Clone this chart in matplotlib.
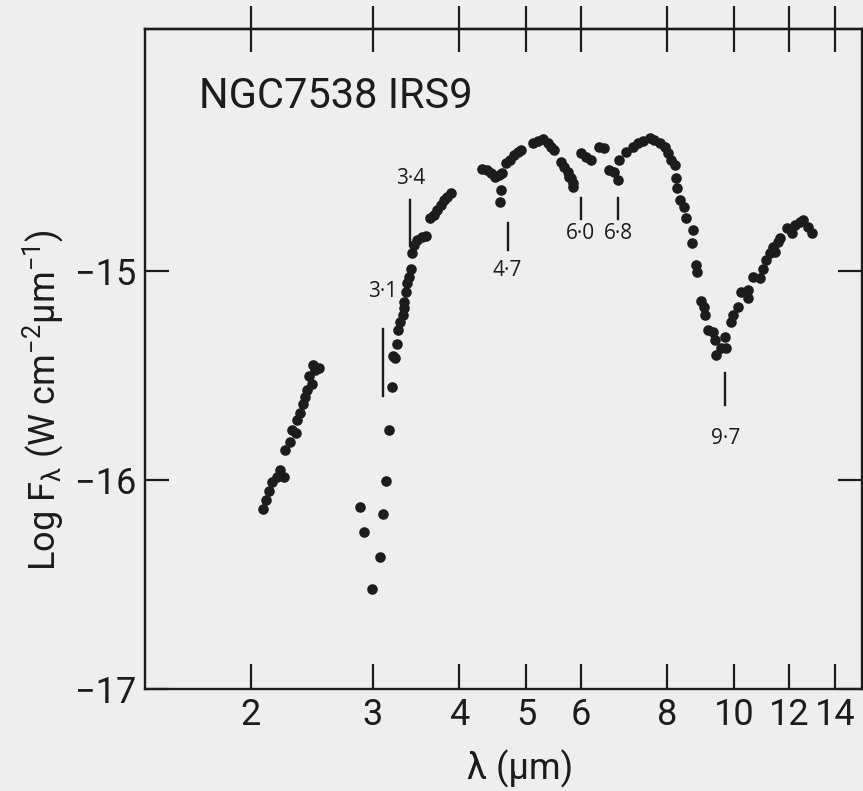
import numpy as np
import matplotlib
matplotlib.use("Agg")
import matplotlib.pyplot as plt

# NGC 7538 IRS9 near/mid-IR spectrum: wavelength (um) and log F_lambda (W cm-2 um-1)
wl_k = [2.086, 2.105, 2.128, 2.145, 2.182, 2.201, 2.230, 2.243, 2.275, 2.293,
        2.326, 2.332, 2.358, 2.379, 2.397, 2.411, 2.452, 2.424, 2.479, 2.460, 2.506]
logf_k = [-16.137, -16.097, -16.053, -16.010, -15.986, -15.954, -15.986, -15.855,
          -15.818, -15.762, -15.775, -15.714, -15.682, -15.638, -15.603, -15.571,
          -15.539, -15.504, -15.475, -15.451, -15.467]

wl_l = [2.873, 2.912, 2.995, 3.079, 3.107, 3.134, 3.173, 3.202, 3.208, 3.232,
        3.255, 3.266, 3.291, 3.321, 3.335, 3.328, 3.347, 3.366, 3.384, 3.404,
        3.423, 3.442, 3.481, 3.539, 3.578, 3.629, 3.678, 3.720, 3.761, 3.803,
        3.846, 3.889]
logf_l = [-16.129, -16.249, -16.524, -16.368, -16.164, -16.005, -15.759, -15.555,
          -15.408, -15.418, -15.352, -15.284, -15.244, -15.212, -15.180, -15.148,
          -15.100, -15.060, -15.029, -14.989, -14.914, -14.877, -14.853, -14.837,
          -14.834, -14.749, -14.733, -14.710, -14.686, -14.662, -14.646, -14.630]

wl_m = [4.323, 4.396, 4.444, 4.504, 4.569, 4.622, 4.596, 4.585, 4.673, 4.741,
        4.805, 4.860, 4.914, 5.110, 5.196, 5.284, 5.373, 5.432, 5.492, 5.616,
        5.678, 5.741, 5.772, 5.805, 5.838, 5.850, 6.002, 6.103, 6.206, 6.381,
        6.488, 6.598, 6.709, 6.799, 6.822, 6.976, 7.134, 7.254, 7.376, 7.540,
        7.666, 7.795, 7.926, 8.016, 8.105, 8.195, 8.241, 8.250, 8.332, 8.455,
        8.520, 8.712, 8.683, 8.788, 8.838, 8.936, 9.038, 9.056, 9.160, 9.315,
        9.365, 9.418, 9.554, 9.683, 9.738, 9.878, 9.957, 10.125, 10.237, 10.468,
        10.470, 10.645, 10.882, 11.006, 11.128, 11.251, 11.441, 11.380, 11.545,
        11.634, 11.897, 12.097, 12.231, 12.437, 12.579, 12.791, 12.933]
logf_m = [-14.515, -14.518, -14.534, -14.550, -14.542, -14.534, -14.614, -14.670,
          -14.486, -14.470, -14.446, -14.431, -14.422, -14.390, -14.378, -14.371,
          -14.390, -14.407, -14.422, -14.478, -14.502, -14.526, -14.550, -14.558,
          -14.582, -14.600, -14.438, -14.455, -14.470, -14.407, -14.414, -14.518,
          -14.526, -14.566, -14.470, -14.431, -14.407, -14.390, -14.378, -14.367,
          -14.375, -14.390, -14.407, -14.438, -14.470, -14.494, -14.558, -14.606,
          -14.662, -14.697, -14.749, -14.805, -14.869, -14.973, -15.005, -15.145,
          -15.172, -15.212, -15.284, -15.292, -15.332, -15.403, -15.371, -15.316,
          -15.367, -15.244, -15.212, -15.172, -15.100, -15.092, -15.132, -15.029,
          -15.036, -14.989, -14.949, -14.917, -14.909, -14.885, -14.861, -14.845,
          -14.797, -14.821, -14.781, -14.766, -14.757, -14.789, -14.821]

# absorption features: wavelength, bar extent and label height (log F)
feat_wl = [3.1, 3.4, 4.7, 6.0, 6.8, 9.7]
feat_lo = [-15.60, -14.88, -14.90, -14.75, -14.75, -15.64]
feat_hi = [-15.28, -14.66, -14.77, -14.65, -14.65, -15.49]
feat_txt = [-15.10, -14.56, -15.00, -14.82, -14.82, -15.80]

xticks = [2, 3, 4, 5, 6, 8, 10, 12, 14]
yticks = [-17, -16, -15]

ink = "#1c1c1c"
paper = "#eeeeec"

plt.rcParams.update({
    "font.family": ["Roboto", "DejaVu Sans"],
    "mathtext.default": "regular",
    "axes.linewidth": 1.7,
    "axes.edgecolor": ink,
    "xtick.color": ink,
    "ytick.color": ink,
    "xtick.major.width": 1.6,
    "ytick.major.width": 1.6,
})

fig = plt.figure(figsize=(8.63, 7.91), dpi=100, facecolor=paper)
ax = fig.add_axes([0.168, 0.129, 0.8305, 0.8343])
ax.set_facecolor(paper)

dot = dict(ls="none", marker="o", ms=6.6, color=ink, mec=ink)
ax.plot(wl_k, logf_k, **dot)
ax.plot(wl_l, logf_l, **dot)
ax.plot(wl_m, logf_m, **dot)

for w, lo, hi, ty in zip(feat_wl, feat_lo, feat_hi, feat_txt):
    ax.plot([w, w], [lo, hi], color=ink, lw=1.7)
    ax.text(w, ty, f"{w:.1f}".replace(".", "·"), ha="center", va="center",
            fontsize=15, color=ink, family=["Open Sans", "DejaVu Sans"])

ax.set_xscale("log")
ax.set_xlim(1.406, 15.28)
ax.set_ylim(-17, -13.8435)
ax.minorticks_off()

ax.set_xticks(xticks)
ax.set_xticklabels([str(t) for t in xticks], fontsize=26)
ax.set_yticks(yticks)
ax.set_yticklabels([f"\u2212{abs(t)}" for t in yticks], fontsize=26)

ax.tick_params(axis="x", which="major", direction="in", length=18, pad=6,
               top=False)
ax.tick_params(axis="y", which="major", direction="in", length=17, pad=6,
               right=True, labelright=False)

# top ticks cross the frame
top = ax.secondary_xaxis("top")
top.set_xticks(xticks)
top.minorticks_off()
top.tick_params(axis="x", which="major", direction="inout", length=33,
                width=1.6, labeltop=False)

ax.text(0.075, 0.88, "NGC7538 IRS9", transform=ax.transAxes, fontsize=30,
        color=ink, ha="left", va="baseline")

fig.text(0.05, 0.494, "Log F$_{λ}$ (W cm$^{-2}$µm$^{-1}$)", rotation=90,
         ha="center", va="center", fontsize=26, color=ink)
fig.text(0.603, 0.028, "λ (µm)", ha="center", va="center",
         fontsize=26, color=ink)

fig.savefig("out.png", dpi=100, facecolor=paper)
